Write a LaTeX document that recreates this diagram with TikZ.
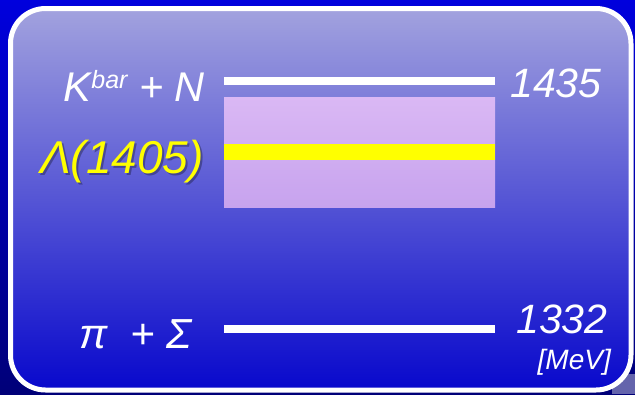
\documentclass[tikz,border=0pt]{standalone}
\usepackage{fontspec}
\setmainfont{Liberation Sans}
\definecolor{outtop}{HTML}{0000DD}
\definecolor{outbot}{HTML}{000078}
\definecolor{cornergray}{HTML}{6464AC}
\definecolor{intop}{HTML}{A2A2DE}
\definecolor{inbot}{HTML}{0808CC}
\definecolor{pinktop}{HTML}{DAB8F4}
\definecolor{pinkbot}{HTML}{C7A3EE}
\definecolor{lamyellow}{HTML}{FFFF00}
\begin{document}
\begin{tikzpicture}[x=1pt,y=-1pt,
  lbl/.style={inner sep=0pt, text=white},
  big/.style={font=\fontsize{41.5}{41.5}\selectfont\itshape},
  num/.style={font=\fontsize{41}{41}\selectfont\itshape},
  lvl/.style={fill=white, draw=none, inner sep=0pt, minimum width=271pt, minimum height=8pt, anchor=north west},
]
\useasboundingbox (0,0) rectangle (635,394);
% outer background
\shade[top color=outtop, bottom color=outbot] (0,0) rectangle (635,394);
\fill[cornergray] (612,374) rectangle (635,394);
% inner panel
\shade[top color=intop, bottom color=inbot, rounded corners=35pt] (10.5,8.5) rectangle (631,390);
\draw[white, line width=5pt, rounded corners=35pt] (10.5,8.5) rectangle (631,390);
% resonance band
\node[inner sep=0pt, minimum width=271pt, minimum height=110pt, anchor=north west,
      top color=pinktop, bottom color=pinkbot, draw=none] (band) at (224,97) {};
\node[fill=lamyellow, inner sep=0pt, minimum width=271pt, minimum height=16pt, anchor=north west] (lam) at (224,144) {};
% thresholds
\node[lvl] (kn) at (224,77) {};
\node[lvl] (ps) at (224,325) {};
% labels
\node[lbl, big, anchor=base east] (knl) at (205,101) {K\raisebox{13pt}{\fontsize{25}{25}\selectfont bar} + N};
\node[lbl, font=\fontsize{46}{46}\selectfont\itshape, text=black, opacity=0.3, anchor=base east] (laml2) at (206,175) {Λ(1405)};
\node[lbl, font=\fontsize{46}{46}\selectfont\itshape, text=lamyellow, anchor=base east] (laml) at (204,173) {Λ(1405)};
\node[lbl, font=\fontsize{42}{42}\selectfont\itshape, anchor=base west] (psl) at (79,348) {π\ \ + Σ};
\node[lbl, num, anchor=base west] (e1) at (510,97) {1435};
\node[lbl, num, anchor=base west] (e2) at (516,333) {1332};
\node[lbl, font=\fontsize{28}{28}\selectfont\itshape, anchor=base east] (unit) at (611,369) {[MeV]};
\end{tikzpicture}
\end{document}
